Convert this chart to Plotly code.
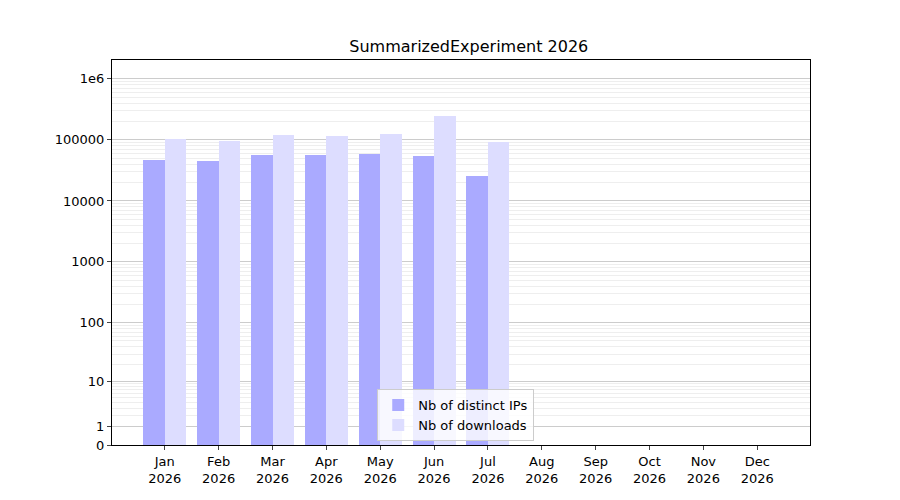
import numpy as np
import plotly.graph_objects as go

months = ["Jan", "Feb", "Mar", "Apr", "May", "Jun", "Jul", "Aug", "Sep", "Oct", "Nov", "Dec"]
year = "2026"
distinct_ips = [47000, 45000, 56000, 56000, 58000, 54000, 25700, 0, 0, 0, 0, 0]
downloads = [105000, 96000, 120000, 118000, 125000, 245000, 93000, 0, 0, 0, 0, 0]
major_vals = [0, 1, 10, 100, 1000, 10000, 100000, 1000000]
major_text = ["0", "1", "10", "100", "1000", "10000", "100000", "1e6"]

def tr(v):
    return np.log10(1 + np.asarray(v, dtype=float))

minor_vals = [m * 10 ** e for e in range(0, 7) for m in range(2, 10)]
x = np.arange(len(months))
labels = [f"{m}<br>{year}" for m in months]

fig = go.Figure()
fig.add_trace(go.Bar(x=x, y=tr(distinct_ips), offset=-0.4, width=0.4,
                     marker=dict(color="#aaaaff", line=dict(width=0)),
                     name="Nb of distinct IPs"))
fig.add_trace(go.Bar(x=x, y=tr(downloads), offset=0, width=0.4,
                     marker=dict(color="#ddddff", line=dict(width=0)),
                     name="Nb of downloads"))

fig.update_layout(
    width=900, height=500,
    font=dict(family="DejaVu Sans", size=13, color="black"),
    title=dict(text="SummarizedExperiment 2026", x=0.512, y=0.935, font=dict(size=16)),
    plot_bgcolor="white", paper_bgcolor="white",
    margin=dict(l=104, r=98, t=52, b=63, autoexpand=False),
    bargap=0,
    legend=dict(x=0.38, y=0.01, xanchor="left", yanchor="bottom",
                bgcolor="rgba(255,255,255,0.8)", bordercolor="#cccccc", borderwidth=1,
                font=dict(size=13)),
)
fig.update_xaxes(range=[-0.98, 11.98], tickvals=x, ticktext=labels, automargin=False,
                 showline=True, linecolor="black", mirror=True,
                 ticks="outside", ticklen=4, showgrid=False)
fig.update_yaxes(range=[0, tr(10 ** 6.31)], tickmode="array", automargin=False,
                 tickvals=tr(major_vals), ticktext=major_text,
                 showline=True, linecolor="black", mirror=True,
                 ticks="outside", ticklen=4, showgrid=True, gridcolor="#cccccc",
                 zeroline=False,
                 minor=dict(tickmode="array", tickvals=tr(minor_vals).tolist(),
                            showgrid=True, gridcolor="#eeeeee", ticks=""))

fig.write_html("out.html")
